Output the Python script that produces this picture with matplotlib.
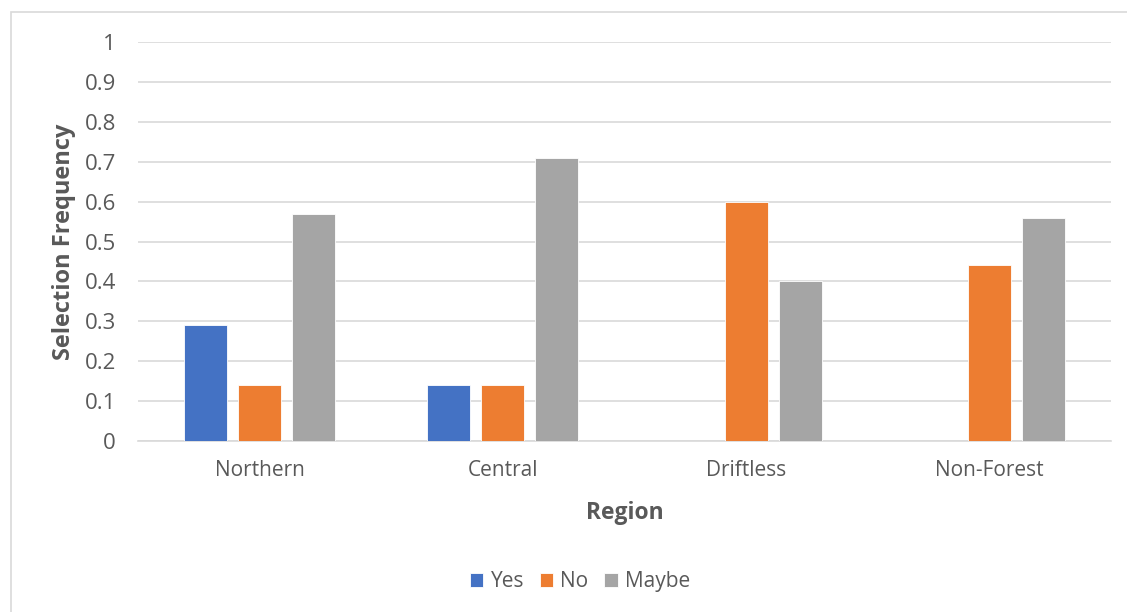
import numpy as np
import matplotlib.pyplot as plt
from matplotlib.patches import Rectangle

# Data
regions = ["Northern", "Central", "Driftless", "Non-Forest"]
yes_vals = [0.29, 0.14, 0, 0]
no_vals = [0.14, 0.14, 0.60, 0.44]
maybe_vals = [0.57, 0.71, 0.40, 0.56]
y_ticks = [0, 0.1, 0.2, 0.3, 0.4, 0.5, 0.6, 0.7, 0.8, 0.9, 1]
y_tick_labels = ["0", "0.1", "0.2", "0.3", "0.4", "0.5", "0.6", "0.7", "0.8", "0.9", "1"]

plt.rcParams["font.family"] = ["Open Sans", "DejaVu Sans"]
text_col = "#595959"
grid_col = "#D9D9D9"

fig = plt.figure(figsize=(11.27, 6.12), dpi=100)
ax = fig.add_axes([138 / 1127, 1 - 441 / 612, (1111 - 138) / 1127, (441 - 42) / 612])

# outer chart border
fig.patches.append(Rectangle((11 / 1127, -0.01), 1.1, 1 - 12 / 612 + 0.01,
                             transform=fig.transFigure, fill=False,
                             edgecolor=grid_col, linewidth=1.2, zorder=0))

x = np.arange(len(regions))
w = 0.176
step = 0.222
series = [("Yes", yes_vals, "#4472C4"), ("No", no_vals, "#ED7D31"), ("Maybe", maybe_vals, "#A5A5A5")]
for i, (name, vals, col) in enumerate(series):
    ax.bar(x + (i - 1) * step, vals, width=w, color=col, label=name, zorder=3,
           edgecolor="white", linewidth=0.6)

ax.set_xlim(-0.5, len(regions) - 0.5)
ax.set_ylim(0, 1)
ax.set_yticks(y_ticks)
ax.set_yticklabels(y_tick_labels)
ax.set_xticks(x)
ax.set_xticklabels(regions)
ax.tick_params(axis="both", length=0, colors=text_col)
ax.tick_params(axis="y", pad=16, labelsize=16)
ax.tick_params(axis="x", pad=14, labelsize=15)
ax.yaxis.grid(True, color=grid_col, linewidth=1.2, zorder=0)
for s in ["top", "right", "left"]:
    ax.spines[s].set_visible(False)
ax.spines["bottom"].set_color(grid_col)
ax.spines["bottom"].set_linewidth(1.2)

ax.set_xlabel("Region", fontsize=16.5, fontweight="bold", color=text_col, labelpad=14)
ax.set_ylabel("Selection Frequency", fontsize=17, fontweight="bold", color=text_col, labelpad=6)

leg = ax.legend(loc="center", bbox_to_anchor=((580 - 138) / 973, -0.352), ncol=3, frameon=False,
                fontsize=15, handlelength=0.65, handleheight=0.65, handletextpad=0.35,
                columnspacing=0.75)
for t in leg.get_texts():
    t.set_color(text_col)

fig.savefig("out.png", dpi=100)
